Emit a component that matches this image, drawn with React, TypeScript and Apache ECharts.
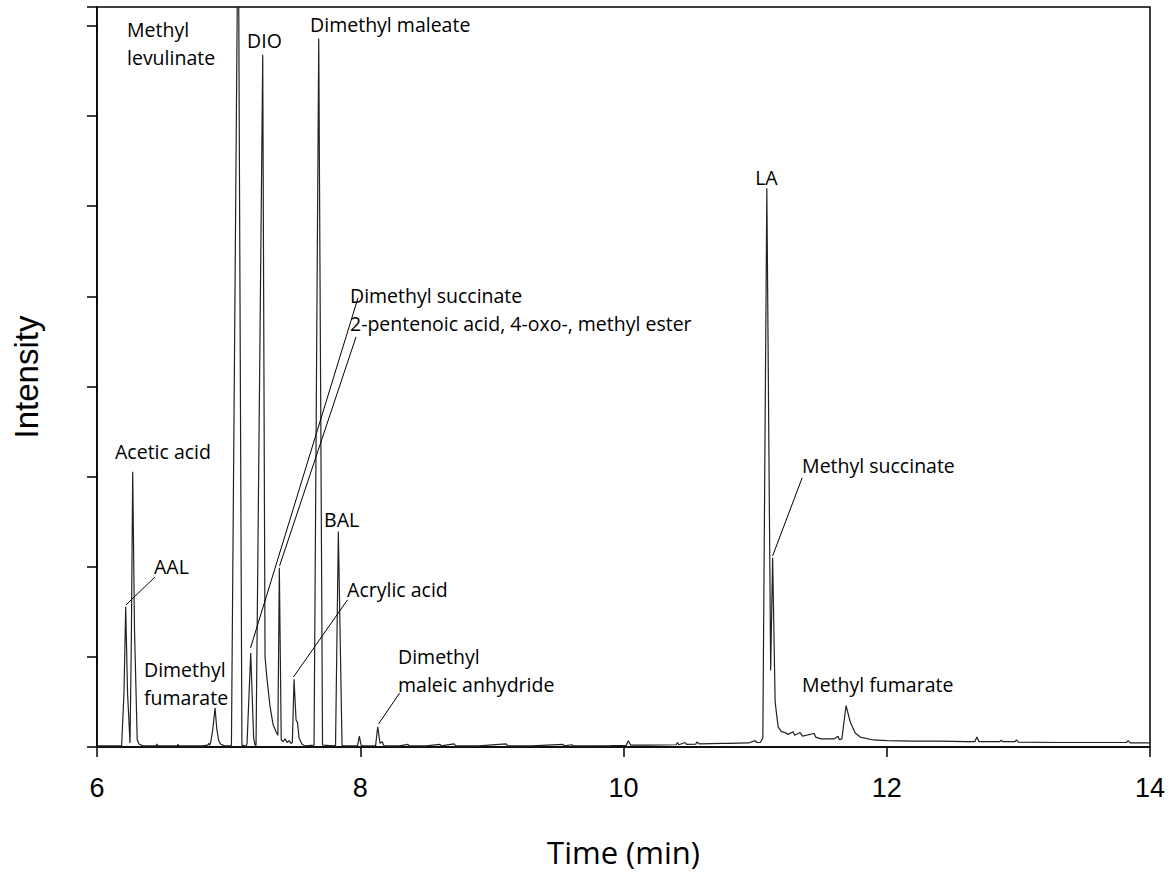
import React, { useEffect, useRef } from "react";
import * as echarts from "echarts";

// Retention time (min) and intensity (tick units)
const traceEarly: [number, number][] = [
  [6.0, 0.012], [6.1, 0.012], [6.187, 0.012], [6.205, 0.6], [6.218, 1.557], [6.232, 0.6],
  [6.2508, 0.045], [6.261, 1.2], [6.2713, 3.055], [6.285, 1.3], [6.3055, 0.08], [6.32, 0.03],
  [6.352, 0.012], [6.45, 0.012], [6.456, 0.035], [6.462, 0.012], [6.61, 0.012], [6.615, 0.03],
  [6.62, 0.012], [6.8, 0.012], [6.84, 0.02], [6.85, 0.04], [6.855, 0.02], [6.865, 0.06],
  [6.88, 0.2], [6.897, 0.433], [6.91, 0.2], [6.925, 0.07], [6.94, 0.03], [6.97, 0.012],
];

const traceCluster: [number, number][] = [
  [7.015, 0.012], [7.0213, 0.02], [7.0729, 9.6], [7.101, 0.02], [7.125, 0.012],
  [7.135, 0.015], [7.14, 0.04], [7.1679, 1.043], [7.19, 0.1], [7.2006, 0.02], [7.2082, 0.02],
  [7.2591, 7.68], [7.2766, 1.0], [7.2918, 0.75], [7.3146, 0.45], [7.3374, 0.25], [7.3602, 0.17],
  [7.3739, 0.13], [7.3853, 1.99], [7.3997, 0.08], [7.4134, 0.06], [7.4286, 0.09], [7.4438, 0.05],
  [7.459, 0.07], [7.4742, 0.04], [7.4841, 0.05], [7.497, 0.75], [7.5122, 0.3], [7.5236, 0.27],
  [7.535, 0.1], [7.5578, 0.03], [7.58, 0.012], [7.6489, 0.02], [7.6846, 7.86], [7.7135, 0.02],
  [7.8, 0.012], [7.8123, 0.02], [7.8336, 2.39], [7.8617, 0.02], [7.87, 0.012],
  [7.9795, 0.012], [7.9932, 0.12], [8.006, 0.02], [8.021, 0.012],
  [8.1163, 0.012], [8.133, 0.225], [8.1505, 0.04], [8.1657, 0.06], [8.1809, 0.012],
];

const traceMiddle: [number, number][] = [
  [8.3, 0.012], [8.363, 0.03], [8.37, 0.012], [8.5, 0.012], [8.606, 0.03], [8.615, 0.012],
  [8.713, 0.035], [8.725, 0.012], [8.9, 0.012], [9.108, 0.035], [9.12, 0.012], [9.3, 0.012],
  [9.54, 0.03], [9.55, 0.012], [9.608, 0.025], [9.62, 0.012], [9.9, 0.015], [10.02, 0.018],
  [10.037, 0.07], [10.055, 0.02], [10.2, 0.02], [10.4, 0.025], [10.41, 0.05], [10.42, 0.025],
  [10.468, 0.05], [10.478, 0.03], [10.55, 0.032], [10.557, 0.055], [10.575, 0.035],
  [10.75, 0.04], [10.8, 0.04], [10.95, 0.045], [11.0, 0.07], [11.015, 0.05], [11.04, 0.05],
];

const traceLate: [number, number][] = [
  [11.0585, 0.1], [11.089, 6.2], [11.118, 0.85], [11.133, 2.1], [11.152, 0.5], [11.175, 0.22],
  [11.2, 0.17], [11.228, 0.16], [11.25, 0.14], [11.289, 0.17], [11.3, 0.13], [11.342, 0.16],
  [11.36, 0.12], [11.448, 0.15], [11.46, 0.11], [11.5, 0.09], [11.6, 0.09], [11.63, 0.12],
  [11.64, 0.08], [11.659, 0.09], [11.691, 0.46], [11.722, 0.28], [11.76, 0.155], [11.798, 0.11],
  [11.897, 0.078], [12.0, 0.07], [12.2, 0.065], [12.4, 0.065], [12.6, 0.06], [12.67, 0.06],
  [12.685, 0.11], [12.7, 0.06], [12.86, 0.06], [12.87, 0.075], [12.88, 0.06], [12.976, 0.06],
  [12.985, 0.08], [13.0, 0.055], [13.3, 0.05], [13.6, 0.05], [13.82, 0.05], [13.834, 0.07],
  [13.85, 0.045], [14.0, 0.045],
];

// Peak labels: [text, time, intensity] (left-middle anchor)
const peakLabels: [string, number, number][] = [
  ["Methyl\nlevulinate", 6.228, 7.81],
  ["DIO", 7.14, 7.836],
  ["Dimethyl maleate", 7.619, 8.013],
  ["Dimethyl succinate", 7.922, 5.005],
  ["2-pentenoic acid, 4-oxo-, methyl ester", 7.922, 4.695],
  ["Acetic acid", 6.137, 3.274],
  ["BAL", 7.725, 2.519],
  ["AAL", 6.433, 1.998],
  ["Acrylic acid", 7.9, 1.742],
  ["Dimethyl\nfumarate", 6.357, 0.699],
  ["Dimethyl\nmaleic anhydride", 8.287, 0.849],
  ["LA", 11.0, 6.315],
  ["Methyl succinate", 11.357, 3.119],
  ["Methyl fumarate", 11.357, 0.688],
];

// Leader lines: [t1, I1, t2, I2]
const leaderLines: [number, number, number, number][] = [
  [6.22, 1.576, 6.441, 1.887],
  [7.1664, 1.099, 7.983, 4.983],
  [7.387, 2.009, 7.968, 4.55],
  [7.493, 0.777, 7.903, 1.632],
  [8.139, 0.255, 8.299, 0.599],
  [11.133, 2.12, 11.357, 2.986],
];

const xTicks = [6, 8, 10, 12, 14];

export default function App() {
  const ref = useRef<HTMLDivElement>(null);
  useEffect(() => {
    if (!ref.current) return;
    const chart = echarts.init(ref.current, undefined, { renderer: "svg" });
    const trace = [...traceEarly, ...traceCluster, ...traceMiddle, ...traceLate];
    chart.setOption({
      animation: false,
      backgroundColor: "#fff",
      grid: {
        left: 97, right: 22, top: 7, bottom: 128,
        containLabel: false,
        outerBoundsMode: "none",
        show: true, borderColor: "#000", borderWidth: 1.5, backgroundColor: "transparent",
      },
      xAxis: {
        type: "value", min: xTicks[0], max: xTicks[xTicks.length - 1], interval: 2,
        name: "Time (min)", nameLocation: "middle", nameGap: 89,
        nameTextStyle: { fontFamily: "Open Sans", fontSize: 31, color: "#000" },
        axisLine: { show: true, lineStyle: { color: "#000", width: 1.5 } },
        axisTick: { show: true, inside: false, length: 10, lineStyle: { color: "#000", width: 1.5 } },
        axisLabel: { margin: 27, fontFamily: "Liberation Sans", fontSize: 27, color: "#000" },
        splitLine: { show: false },
      },
      yAxis: {
        type: "value", min: 0, max: 8.21, interval: 1,
        name: "Intensity", nameLocation: "middle", nameGap: 54, nameRotate: 90,
        nameTextStyle: { fontFamily: "Liberation Sans", fontSize: 33, color: "#000" },
        axisLine: { show: true, lineStyle: { color: "#000", width: 1.5 } },
        axisTick: { show: true, inside: false, length: 10, lineStyle: { color: "#000", width: 1.5 } },
        axisLabel: { show: false },
        splitLine: { show: false },
      },
      series: [
        {
          type: "line",
          data: trace,
          showSymbol: false,
          symbol: "none",
          clip: true,
          lineStyle: { color: "#222", width: 1.2 },
          markLine: {
            silent: true,
            symbol: ["none", "none"],
            label: { show: false },
            lineStyle: { color: "#000", width: 1, type: "solid" },
            data: leaderLines.map(([a, b, c, d]) => [{ coord: [a, b] }, { coord: [c, d] }]),
          },
        },
      ],
    });
    const graphics = peakLabels.map(([text, t, v]) => {
      const [px, py] = chart.convertToPixel({ gridIndex: 0 }, [t, v]) as number[];
      return {
        type: "text",
        x: px,
        y: py,
        silent: true,
        style: {
          text,
          fill: "#000",
          fontFamily: "Open Sans",
          fontSize: 19.5,
          lineHeight: 28,
          align: "left",
          verticalAlign: "middle",
          textAlign: "left",
          textVerticalAlign: "middle",
        },
      };
    });
    chart.setOption({ graphic: graphics });
    return () => chart.dispose();
  }, []);
  return (
    <div
      ref={ref}
      style={{ position: "fixed", left: 0, top: 0, width: 1172, height: 875, background: "#fff" }}
    />
  );
}
